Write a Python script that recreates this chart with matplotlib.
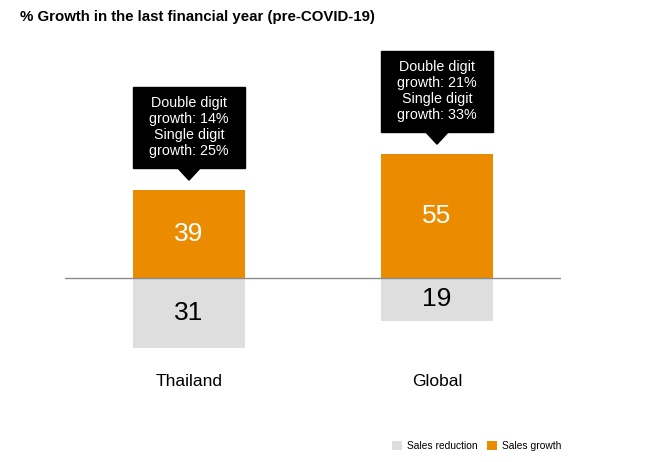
import matplotlib.pyplot as plt
from matplotlib.patches import Polygon, Rectangle

categories = ["Thailand", "Global"]
sales_growth = [39, 55]
sales_reduction = [31, 19]
callouts = [
    "Double digit\ngrowth: 14%\nSingle digit\ngrowth: 25%",
    "Double digit\ngrowth: 21%\nSingle digit\ngrowth: 33%",
]

ORANGE = "#EB8C00"
GREY = "#DEDEDE"

plt.rcParams["font.family"] = ["Liberation Sans", "DejaVu Sans"]

fig = plt.figure(figsize=(6.51, 4.62), dpi=100)
ax = fig.add_axes([65 / 651, 1 - 390.5 / 462, 496 / 651, 360 / 462])
ax.set_xlim(-0.5, 1.5)
ax.set_ylim(-50, 110)
ax.axis("off")

x = list(range(len(categories)))
width = 0.45
ax.bar(x, sales_growth, width, color=ORANGE, label="Sales growth", zorder=2)
ax.bar(x, [-v for v in sales_reduction], width, color=GREY,
       label="Sales reduction", zorder=2)
ax.axhline(0, color="#8c8c8c", lw=1, zorder=3)

for i, (g, r, txt) in enumerate(zip(sales_growth, sales_reduction, callouts)):
    ax.text(i, g / 2, str(g), ha="center", va="center", color="white", fontsize=19)
    ax.text(i, -r / 2, str(r), ha="center", va="center", color="black", fontsize=19)
    # callout box above the bar
    tip = g + 4.5
    base = tip + 5.5
    top = base + 36
    ax.add_patch(Rectangle((i - width / 2, base), width, top - base,
                           color="black", zorder=4, clip_on=False))
    ax.add_patch(Polygon([(i - 0.047, base + 0.1), (i + 0.047, base + 0.1), (i, tip)],
                         closed=True, color="black", zorder=4, clip_on=False))
    ax.text(i, (base + top) / 2, txt, ha="center", va="center", color="white",
            fontsize=10.3, linespacing=1.17, zorder=5)

for i, c in enumerate(categories):
    ax.text(i, -46, c, ha="center", va="center", fontsize=12.5)

fig.text(20 / 651, 1 - 17 / 462, "% Growth in the last financial year (pre-COVID-19)",
         fontsize=10.8, fontweight="bold", va="center", ha="left")

handles, labels = ax.get_legend_handles_labels()
fig.legend(handles[::-1], labels[::-1], loc="center right",
           bbox_to_anchor=(571 / 651, 1 - 446 / 462), ncol=2, frameon=False,
           fontsize=7.4, handlelength=1, handleheight=1, handletextpad=0.5,
           columnspacing=0.9)

fig.savefig("out.png", dpi=100)
